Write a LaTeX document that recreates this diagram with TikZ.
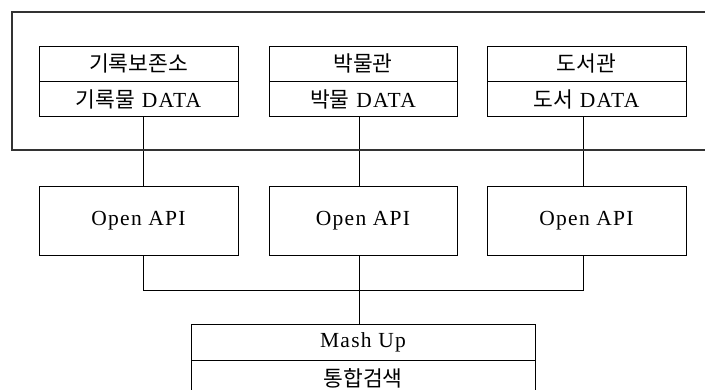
\documentclass[tikz,border=0pt]{standalone}
\usepackage{fontspec}
\setmainfont{Liberation Serif}[LetterSpace=6]
\newfontfamily\kr{Noto Sans CJK KR}

\tikzset{
  cell/.style={draw, line width=0.8pt, minimum height=35pt, inner sep=0pt,
    font=\fontsize{21.5}{23}\selectfont},
  link/.style={line width=0.8pt},
  frame/.style={line width=1.6pt, draw=black!80},
}

\begin{document}
\begin{tikzpicture}[x=1pt,y=-1pt]
  \useasboundingbox (0,0) rectangle (705,390);

  % the three sources, their data and the API in front of each
  \foreach \n/\cx/\w/\lx/\lbl/\dat in {arch/138.5/199/143/기록보존소/기록물, mus/363/188/359/박물관/박물, lib/586.5/199/583/도서관/도서}{
    \pgfmathsetmacro{\dx}{\lx-\cx}
    \node[cell, minimum width=\w pt] (\n) at (\cx,63.5) {{\kr \lbl}};
    \node[cell, minimum width=\w pt, anchor=north] (\n-data) at (\n.south) {{\kr \dat} DATA};
    \node[cell, minimum width=\w pt, minimum height=69pt] (\n-api) at (\cx,220.5) {Open API};
    \draw[link] ([xshift=\dx pt]\n-data.south) -- ([xshift=\dx pt]\n-api.north);
  }

  % frame round the sources, open on the right
  \draw[frame] (712,12) -| (12,150) -- (712,150);

  % mash up
  \node[cell, minimum width=344pt, minimum height=36pt] (mashup) at (363,342) {Mash Up};
  \node[cell, minimum width=344pt, minimum height=36pt, anchor=north] (search) at (mashup.south) {{\kr 통합검색}};

  \draw[link] ([xshift=4.5pt]arch-api.south) -- ++(0,35) -| ([xshift=-3.5pt]lib-api.south);
  \draw[link] ([xshift=-4pt]mus-api.south) -- ([xshift=-4pt]mashup.north);
\end{tikzpicture}
\end{document}
